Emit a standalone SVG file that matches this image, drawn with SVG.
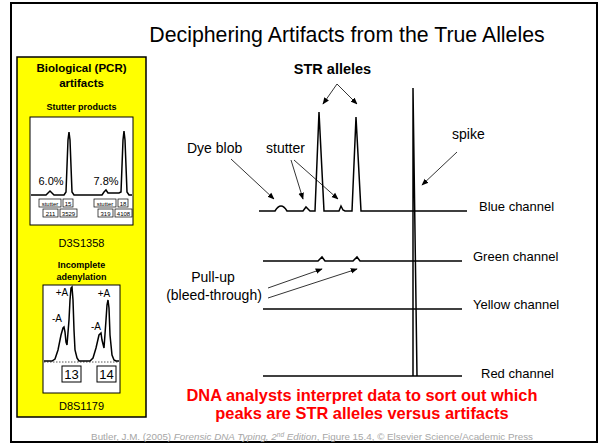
<svg xmlns="http://www.w3.org/2000/svg" width="602" height="445" viewBox="0 0 602 445">
<defs>
<marker id="ah" viewBox="0 0 10 10" refX="9" refY="5" markerWidth="7" markerHeight="7" markerUnits="userSpaceOnUse" orient="auto">
<path d="M0,1 L10,5 L0,9 Z" fill="#000"/>
</marker>
<style>
text{font-family:"Liberation Sans",Arial,sans-serif;fill:#000}
.b{font-weight:bold}
.lbl{font-size:14px}
.ch{font-size:13px}
.trace{fill:none;stroke:#000;stroke-width:1.5;stroke-linejoin:miter}
.arr{fill:none;stroke:#000;stroke-width:0.8;marker-end:url(#ah)}
.tb{fill:#fff;stroke:#000;stroke-width:0.7}
.tiny{font-size:6px;text-anchor:middle}
.red{fill:#ff0000;font-weight:bold;font-size:16.4px;text-anchor:middle}
</style>
</defs>
<rect x="0" y="0" width="602" height="445" fill="#fff"/>
<rect x="11" y="3" width="586" height="439" fill="#fff" stroke="#000" stroke-width="2"/>
<text x="347" y="42" font-size="21.3" text-anchor="middle">Deciphering Artifacts from the True Alleles</text>

<g id="panel">
<rect x="17" y="57" width="129" height="360" fill="#ffff00" stroke="#000" stroke-width="1.5"/>
<text x="81.5" y="72" class="b" font-size="11.5" text-anchor="middle">Biological (PCR)</text>
<text x="81.5" y="87" class="b" font-size="11.5" text-anchor="middle">artifacts</text>
<text x="81.5" y="110" class="b" font-size="9" text-anchor="middle">Stutter products</text>
<g id="stutter-box">
<rect x="30" y="117" width="103" height="108" fill="#fff" stroke="#000" stroke-width="1"/>
<path class="trace" stroke-width="1" d="M31,195 H46 L48,193 L50,191 L52,193 L54,195 H64 L66,192 L68,140 L69,132 L70,140 L72,192 L74,195 H102 L104,192 L106,190 L108,193 H119 L121,192 L123,140 L124,131 L125,140 L127,192 L129,195 H132"/>
<text x="51" y="185" font-size="11" text-anchor="middle">6.0%</text>
<text x="106" y="185" font-size="11" text-anchor="middle">7.8%</text>
<rect class="tb" x="39" y="199" width="22" height="8"/><text class="tiny" x="50" y="205.5">stutter</text>
<rect class="tb" x="63" y="199" width="10" height="8"/><text class="tiny" x="68" y="205.5">15</text>
<rect class="tb" x="43" y="209" width="15" height="8"/><text class="tiny" x="50.5" y="215.5">211</text>
<rect class="tb" x="60" y="209" width="17" height="8"/><text class="tiny" x="68.5" y="215.5">3529</text>
<rect class="tb" x="94" y="199" width="22" height="8"/><text class="tiny" x="105" y="205.5">stutter</text>
<rect class="tb" x="118" y="199" width="10" height="8"/><text class="tiny" x="123" y="205.5">18</text>
<rect class="tb" x="98" y="209" width="15" height="8"/><text class="tiny" x="105.5" y="215.5">319</text>
<rect class="tb" x="115" y="209" width="17" height="8"/><text class="tiny" x="123.5" y="215.5">4108</text>
</g>
<text x="81.5" y="247" font-size="11" text-anchor="middle">D3S1358</text>
<text x="81.5" y="268" class="b" font-size="9" text-anchor="middle">Incomplete</text>
<text x="81.5" y="280" class="b" font-size="9" text-anchor="middle">adenylation</text>
<g id="adenylation-box">
<rect x="43" y="285" width="77" height="108" fill="#fff" stroke="#000" stroke-width="1"/>
<line x1="44" y1="362" x2="119" y2="362" stroke="#555" stroke-width="1" stroke-dasharray="1.5,1.5"/>
<path class="trace" stroke-width="2" d="M44,361 H52 L55,359 L58,350 L61,335 L63,328 L64,327 L65,332 L66,342 L67,345 L69,320 L70,300 L71,288 L72,287 L73,300 L74,330 L75,350 L77,358 L79,361 H90 L93,358 L96,348 L99,335 L101,333 L102,340 L104,348 L106,320 L107,305 L108,300 L109,308 L110,335 L112,355 L114,360 L116,361 H119"/>
<text x="62" y="296" font-size="10" text-anchor="middle">+A</text>
<text x="57" y="322" font-size="10" text-anchor="middle">-A</text>
<text x="104" y="297" font-size="10" text-anchor="middle">+A</text>
<text x="96" y="330" font-size="10" text-anchor="middle">-A</text>
<rect x="62" y="366" width="19" height="16" fill="#fff" stroke="#000" stroke-width="1"/>
<text x="71.5" y="379" font-size="13" text-anchor="middle">13</text>
<rect x="97" y="366" width="19" height="16" fill="#fff" stroke="#000" stroke-width="1"/>
<text x="106.5" y="379" font-size="13" text-anchor="middle">14</text>
</g>
<text x="81.5" y="410" font-size="11" text-anchor="middle">D8S1179</text>
</g>

<g id="blue-channel">
<path class="trace" d="M259,211 H275 Q278,206 281,206 Q284,206 287,211 H303 L306,207 L308,209 L310,211 H315 L319,112 L324,211 H339 L341,206 L343,210 L345,211 H352 L356,117 L361,211 H467"/>
<text class="ch" x="479" y="211">Blue channel</text>
</g>
<g id="green-channel">
<path class="trace" stroke="#333" d="M263,261 H318 L322,257 L325,261 H353 L357,257 L360,261 H462"/>
<text class="ch" x="473" y="261">Green channel</text>
</g>
<g id="yellow-channel">
<path class="trace" d="M263,309 H462"/>
<text class="ch" x="473" y="309">Yellow channel</text>
</g>
<g id="red-channel">
<path class="trace" d="M263,376 H462"/>
<text class="ch" x="481" y="378">Red channel</text>
</g>
<g id="spike">
<path class="trace" stroke-width="1.5" d="M413,376 L413,88 L417,376"/>
</g>

<g id="labels">
<text x="332.5" y="74" class="b" font-size="14.5" text-anchor="middle">STR alleles</text>
<text class="lbl" x="187" y="153">Dye blob</text>
<text class="lbl" x="266" y="153">stutter</text>
<text class="lbl" x="452" y="139">spike</text>
<text class="lbl" x="213" y="282" text-anchor="middle">Pull-up</text>
<text class="lbl" x="214" y="300" text-anchor="middle">(bleed-through)</text>
</g>

<g id="connectors">
<line class="arr" x1="337" y1="84" x2="323" y2="104"/>
<line class="arr" x1="337" y1="84" x2="357" y2="104"/>
<line class="arr" x1="231" y1="159" x2="274" y2="199"/>
<line class="arr" x1="291" y1="160" x2="303" y2="199"/>
<line class="arr" x1="294" y1="160" x2="338" y2="199"/>
<line class="arr" x1="457" y1="152" x2="422" y2="185"/>
<line class="arr" x1="268" y1="288" x2="322" y2="269"/>
<line class="arr" x1="268" y1="298" x2="357" y2="269"/>
</g>

<text class="red" x="362" y="401">DNA analysts interpret data to sort out which</text>
<text class="red" x="362" y="419">peaks are STR alleles versus artifacts</text>
<text x="533" y="440" font-size="9.8" text-anchor="end" style="fill:#a6a6a6">Butler, J.M. (2005) <tspan font-style="italic">Forensic DNA Typing, 2</tspan><tspan font-style="italic" font-size="6.5" dy="-3">nd</tspan><tspan font-style="italic" dy="3"> Edition</tspan>, Figure 15.4, © Elsevier Science/Academic Press</text>
</svg>
